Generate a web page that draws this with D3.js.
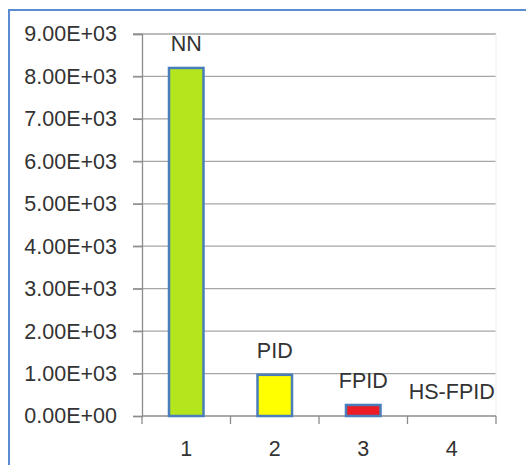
<!DOCTYPE html>
<html lang="en">
<head>
    <meta charset="UTF-8">
    <title>Bar Chart</title>
    <script src="https://d3js.org/d3.v7.min.js"></script>
    <style>
        html, body { margin: 0; background: #fff; overflow: hidden; }
        svg { display: block; }
    </style>
</head>
<body>
    <div id="chart"></div>
    <script>
        // data
        const categories = ["1", "2", "3", "4"];
        const labels = ["NN", "PID", "FPID", "HS-FPID"];
        const values = [8200, 970, 260, 0];
        const colors = ["#b5e61d", "#ffff00", "#ed1c24", "#4f81bd"];
        const yTicks = [0, 1000, 2000, 3000, 4000, 5000, 6000, 7000, 8000, 9000];

        const width = 526;
        const height = 465;
        const margin = { top: 34, right: 30, bottom: 49, left: 142 };
        const fontSize = 21.5;

        const svg = d3.select("#chart")
            .append("svg")
            .attr("width", width)
            .attr("height", height)
            .attr("font-family", "Liberation Sans, Arial, sans-serif");

        // outer frame (only top and left show)
        svg.append("path")
            .attr("d", `M9,${height + 5}V10H${width + 5}`)
            .attr("fill", "none")
            .attr("stroke", "#5b8bd0")
            .attr("stroke-width", 2);

        const x = d3.scaleBand()
            .domain(categories)
            .range([margin.left, width - margin.right])
            .paddingInner(0.61)
            .paddingOuter(0.305);

        const y = d3.scaleLinear()
            .domain([0, 9000])
            .range([height - margin.bottom, margin.top]);

        // grid lines
        svg.append("g")
            .selectAll("line")
            .data(yTicks.filter(d => d > 0))
            .join("line")
            .attr("x1", margin.left - 9)
            .attr("x2", width - margin.right)
            .attr("y1", d => y(d))
            .attr("y2", d => y(d))
            .attr("stroke", "#a6a6a6")
            .attr("stroke-width", 1.3);

        // faint right edge of plot area
        svg.append("line")
            .attr("x1", width - margin.right)
            .attr("x2", width - margin.right)
            .attr("y1", margin.top)
            .attr("y2", height - margin.bottom)
            .attr("stroke", "#eeeeee");

        // y axis
        const yAxis = svg.append("g")
            .attr("transform", `translate(${margin.left},0)`)
            .call(d3.axisLeft(y)
                .tickValues(yTicks)
                .tickSize(9)
                .tickPadding(16)
                .tickFormat(d => d.toExponential(2).toUpperCase().replace(/E([+-])(\d)$/, "E$10$2")));
        yAxis.select(".domain").attr("stroke", "#8c8c8c").attr("stroke-width", 1.3);
        yAxis.selectAll(".tick line").attr("stroke", "#8c8c8c").attr("stroke-width", 1.3);
        yAxis.selectAll("text")
            .attr("font-size", fontSize)
            .attr("fill", "#333");

        // x axis with ticks between categories
        const baseY = height - margin.bottom;
        const step = x.step();
        const xg = svg.append("g");
        xg.append("line")
            .attr("x1", margin.left)
            .attr("x2", width - margin.right)
            .attr("y1", baseY)
            .attr("y2", baseY)
            .attr("stroke", "#8c8c8c")
            .attr("stroke-width", 1.3);
        xg.selectAll("line.tk")
            .data(d3.range(categories.length + 1))
            .join("line")
            .attr("class", "tk")
            .attr("x1", i => margin.left + i * step)
            .attr("x2", i => margin.left + i * step)
            .attr("y1", baseY)
            .attr("y2", baseY + 8)
            .attr("stroke", "#8c8c8c")
            .attr("stroke-width", 1.3);
        xg.selectAll("text")
            .data(categories)
            .join("text")
            .attr("x", d => x(d) + x.bandwidth() / 2)
            .attr("y", baseY + 40)
            .attr("text-anchor", "middle")
            .attr("font-size", fontSize)
            .attr("fill", "#333")
            .text(d => d);

        // bars
        svg.append("g")
            .selectAll("rect")
            .data(values)
            .join("rect")
            .attr("x", (d, i) => x(categories[i]))
            .attr("y", d => y(d))
            .attr("width", x.bandwidth())
            .attr("height", d => y(0) - y(d))
            .attr("fill", (d, i) => colors[i])
            .attr("stroke", "#4a7ebb")
            .attr("stroke-width", d => d > 0 ? 2.5 : 0);

        // bar labels
        svg.append("g")
            .selectAll("text")
            .data(values)
            .join("text")
            .attr("x", (d, i) => x(categories[i]) + x.bandwidth() / 2)
            .attr("y", d => y(d) - 17)
            .attr("text-anchor", "middle")
            .attr("font-size", fontSize)
            .attr("fill", "#333")
            .text((d, i) => labels[i]);
    </script>
</body>
</html>
